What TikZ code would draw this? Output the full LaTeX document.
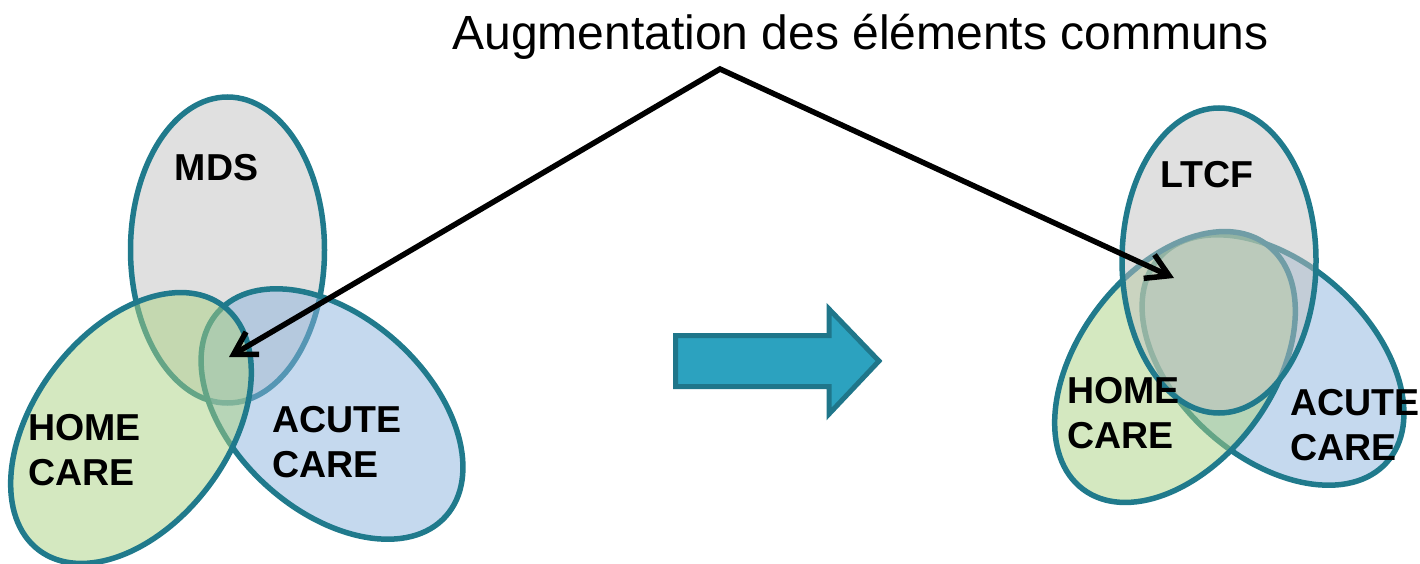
\documentclass[tikz,border=0pt]{standalone}
\usepackage{fontspec}
\setmainfont{Liberation Sans}
\usetikzlibrary{arrows.meta}
\definecolor{edge}{RGB}{32,122,140}
\definecolor{grayfill}{RGB}{193,193,193}
\definecolor{greenfill}{RGB}{169,209,129}
\definecolor{bluefill}{RGB}{139,179,221}
\definecolor{arrowfill}{RGB}{44,162,191}
\definecolor{arrowedge}{RGB}{31,118,138}
\begin{document}
\begin{tikzpicture}[x=1pt,y=-1pt,
  setshape/.style={draw=edge, line width=5.5pt, fill opacity=0.5},
  grayset/.style={setshape, fill=grayfill},
  greenset/.style={setshape, fill=greenfill},
  blueset/.style={setshape, fill=bluefill},
  setlabel/.style={font=\bfseries\fontsize{37.5}{45}\selectfont, inner sep=0pt, align=left, anchor=base west},
  pointer/.style={line width=5.5pt, line join=miter, {Straight Barb[length=22pt,width=26pt]}-{Straight Barb[length=22pt,width=26pt]}},
  bigarrow/.style={draw=arrowedge, fill=arrowfill, line width=5pt, line join=miter}
]
\useasboundingbox (0,0) rectangle (1420,564);

% ---- left diagram ----
\draw[grayset]  (227.5,250) ellipse (97 and 153);
\draw[blueset]  [shift={(332,414)}, rotate=-42] (0,0) ellipse (153 and 97);
\draw[greenset] [shift={(131,428)}, rotate=53] (0,0) ellipse (153 and 97);

\node[setlabel, anchor=base] (mds) at (216.5,180) {MDS};
\node[setlabel] (home1) at (28,485) {HOME\\CARE};
\node[setlabel] (acute1) at (272,477) {ACUTE\\CARE};

% ---- right diagram ----
\draw[blueset]  [shift={(1273,360)}, rotate=-42] (0,0) ellipse (153 and 97);
\draw[greenset] [shift={(1175,367)}, rotate=53] (0,0) ellipse (153 and 97);
\draw[grayset]  (1219,260.5) ellipse (97 and 152.5);

\node[setlabel, anchor=base] (ltcf) at (1207,187) {LTCF};
\node[setlabel] (home2) at (1067,448) {HOME\\CARE};
\node[setlabel] (acute2) at (1290,460) {ACUTE\\CARE};

% ---- middle block arrow ----
\draw[bigarrow] (675.5,335.5) -- (829,335.5) -- (829,309) -- (879,361) -- (829,414) -- (829,386.5) -- (675.5,386.5) -- cycle;

% ---- title and pointers ----
\node[font=\fontsize{48}{58}\selectfont, inner sep=0pt, anchor=base] (title) at (860.5,50) {Augmentation des éléments communs};
\coordinate (apex) at (720,69);
\coordinate (lefttip) at (229,357);
\coordinate (righttip) at (1174,278);
\draw[pointer] (lefttip) -- (apex) -- (righttip);
\end{tikzpicture}
\end{document}
